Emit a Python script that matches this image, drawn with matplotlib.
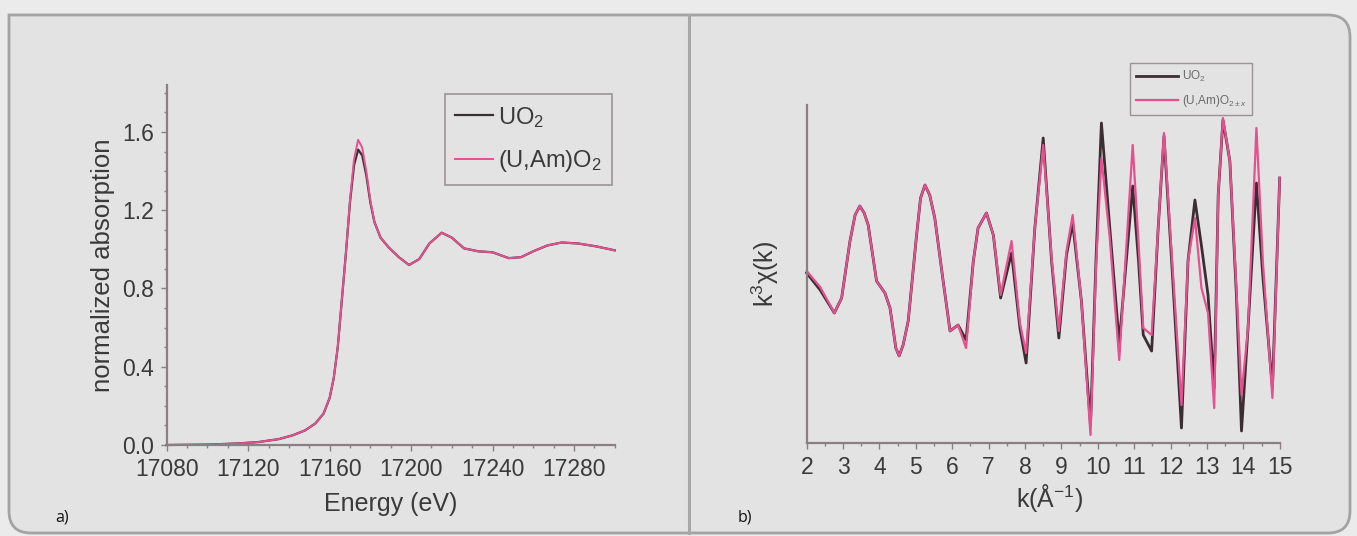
import matplotlib
matplotlib.use("Agg")
import matplotlib.pyplot as plt
from matplotlib.path import Path
from matplotlib.patches import PathPatch
from matplotlib.ticker import MultipleLocator, NullLocator

plt.rcParams['font.family'] = ['Liberation Sans', 'DejaVu Sans']
plt.rcParams['mathtext.fontset'] = 'custom'
plt.rcParams['mathtext.rm'] = 'Liberation Sans'
plt.rcParams['mathtext.it'] = 'Liberation Sans:italic'

# a) XANES, U L3 edge
energy = [17080, 17100, 17115, 17125, 17135, 17142, 17148, 17153, 17157, 17160,
          17162, 17164, 17166, 17168, 17170, 17172, 17174, 17176, 17178, 17180,
          17182, 17185, 17189, 17194, 17199, 17204, 17209, 17215, 17220, 17226,
          17233, 17240, 17248, 17254, 17260, 17267, 17274, 17282, 17291, 17300]
xanes_uo2 = [0.0, 0.002, 0.008, 0.015, 0.03, 0.05, 0.075, 0.11, 0.16, 0.24,
             0.34, 0.5, 0.74, 0.98, 1.24, 1.43, 1.51, 1.48, 1.38, 1.24,
             1.14, 1.06, 1.01, 0.96, 0.92, 0.95, 1.03, 1.085, 1.06, 1.005,
             0.99, 0.985, 0.955, 0.96, 0.99, 1.02, 1.035, 1.03, 1.015, 0.995]
xanes_uam = [0.0, 0.002, 0.008, 0.015, 0.03, 0.05, 0.075, 0.11, 0.16, 0.24,
             0.34, 0.5, 0.74, 0.98, 1.25, 1.46, 1.56, 1.52, 1.40, 1.25,
             1.14, 1.06, 1.01, 0.96, 0.92, 0.95, 1.03, 1.085, 1.06, 1.005,
             0.99, 0.985, 0.955, 0.96, 0.99, 1.02, 1.035, 1.03, 1.015, 0.995]

# b) EXAFS k^3 chi(k), arbitrary units
k = [2.00, 2.37, 2.76, 2.96, 3.19, 3.33, 3.46, 3.58, 3.69, 3.92,
     4.15, 4.29, 4.45, 4.54, 4.65, 4.79, 5.02, 5.13, 5.25, 5.38,
     5.52, 5.75, 5.94, 6.16, 6.38, 6.58, 6.71, 6.94, 7.13, 7.33,
     7.63, 7.86, 8.03, 8.27, 8.50, 8.73, 8.93, 9.14, 9.31, 9.55,
     9.80, 9.95, 10.10, 10.33, 10.59, 10.96, 11.12, 11.25, 11.48, 11.66,
     11.82, 12.03, 12.30, 12.48, 12.67, 12.85, 13.03, 13.20, 13.31, 13.44,
     13.63, 13.81, 13.95, 14.13, 14.36, 14.54, 14.80, 15.00]
chi_uo2 = [0.00, -0.17, -0.40, -0.25, 0.32, 0.58, 0.67, 0.60, 0.48, -0.08,
           -0.20, -0.35, -0.75, -0.83, -0.72, -0.48, 0.38, 0.75, 0.88, 0.78,
           0.55, -0.08, -0.58, -0.52, -0.67, 0.12, 0.45, 0.60, 0.38, -0.25,
           0.20, -0.55, -0.90, 0.45, 1.35, 0.12, -0.65, 0.18, 0.50, -0.28,
           -1.52, 0.12, 1.50, 0.45, -0.70, 0.87, 0.12, -0.62, -0.78, 0.45,
           1.37, 0.12, -1.55, 0.12, 0.73, 0.27, -0.22, -1.15, 0.78, 1.53,
           1.12, -0.22, -1.58, -0.55, 0.90, -0.05, -1.15, 0.95]
chi_uam = [0.02, -0.14, -0.40, -0.25, 0.32, 0.58, 0.67, 0.60, 0.48, -0.08,
           -0.20, -0.35, -0.75, -0.83, -0.72, -0.48, 0.38, 0.75, 0.88, 0.78,
           0.55, -0.08, -0.58, -0.52, -0.75, 0.12, 0.45, 0.60, 0.38, -0.22,
           0.32, -0.50, -0.80, 0.45, 1.28, 0.15, -0.58, 0.22, 0.58, -0.28,
           -1.62, 0.05, 1.15, 0.35, -0.87, 1.28, 0.30, -0.55, -0.62, 0.45,
           1.40, 0.20, -1.32, 0.12, 0.55, -0.15, -0.40, -1.35, 0.78, 1.55,
           1.12, -0.15, -1.22, -0.55, 1.45, 0.10, -1.25, 0.95]

c_uo2 = '#3a2e33'
c_uam = '#e5508f'
axis_c = '#8a7f85'
text_c = '#3a3a3a'

fig = plt.figure(figsize=(13.57, 5.36), dpi=100, facecolor='#ebebeb')

# background frame (pixel coordinates)
bg = fig.add_axes([0, 0, 1, 1], zorder=-5)
bg.set_xlim(0, 1357)
bg.set_ylim(536, 0)
bg.axis('off')
L, T, R, B, r = 9, 15, 1350, 533, 22
verts = [(L, T), (R - r, T), (R, T), (R, T + r), (R, B - r), (R, B), (R - r, B),
         (L + r, B), (L, B), (L, B - r), (L, T)]
codes = [Path.MOVETO, Path.LINETO, Path.CURVE3, Path.CURVE3, Path.LINETO,
         Path.CURVE3, Path.CURVE3, Path.LINETO, Path.CURVE3, Path.CURVE3, Path.CLOSEPOLY]
bg.add_patch(PathPatch(Path(verts, codes), facecolor='#e2e3e2', edgecolor='#a3a3a3', lw=2))
bg.plot([689, 689], [T, B], color='#a8a8a8', lw=2.2)
bg.text(62, 517, 'a)', fontsize=11.5, family=['Open Sans', 'DejaVu Sans'], ha='center', va='center', color='#111111')
bg.text(745, 517, 'b)', fontsize=11.5, family=['Open Sans', 'DejaVu Sans'], ha='center', va='center', color='#111111')


def style_axes(ax):
    ax.set_facecolor('none')
    for s in ['top', 'right']:
        ax.spines[s].set_visible(False)
    for s in ['left', 'bottom']:
        ax.spines[s].set_color(axis_c)
        ax.spines[s].set_linewidth(1.6)
    ax.tick_params(which='both', direction='out', color=axis_c, labelcolor=text_c,
                   labelsize=16.5, width=1.0)
    ax.tick_params(which='major', length=4, pad=5)
    ax.tick_params(which='minor', length=2.5)


# --- panel a ---
ax1 = fig.add_axes([166.7 / 1357, 91 / 536, 448 / 1357, 360 / 536])
style_axes(ax1)
ax1.plot(energy, xanes_uo2, color=c_uo2, lw=1.6, label='UO$_2$', clip_on=False)
ax1.plot(energy, xanes_uam, color=c_uam, lw=1.4, label='(U,Am)O$_2$', clip_on=False)
ax1.set_xlim(17080, 17300)
ax1.set_ylim(0, 1.84)
ax1.xaxis.set_major_locator(MultipleLocator(40))
ax1.xaxis.set_minor_locator(MultipleLocator(10))
ax1.yaxis.set_minor_locator(MultipleLocator(0.1))
ax1.set_yticks([0, 0.4, 0.8, 1.2, 1.6])
ax1.set_yticklabels(['0.0', '0.4', '0.8', '1.2', '1.6'])
ax1.set_xlabel('Energy (eV)', fontsize=18, color=text_c)
ax1.set_ylabel('normalized absorption', fontsize=18.5, color=text_c)
ax1.xaxis.set_label_coords(0.5, -0.13)
ax1.yaxis.set_label_coords(-0.115, 0.5)
leg1 = ax1.legend(loc='upper left', bbox_to_anchor=(278 / 448, 1 - 9 / 360),
                  fontsize=17, handlelength=1.6, handletextpad=0.2,
                  labelspacing=0.8, borderpad=0.45, borderaxespad=0.0,
                  fancybox=False, facecolor='none', edgecolor=axis_c)
leg1.get_frame().set_linewidth(1.2)
for t in leg1.get_texts():
    t.set_color(text_c)

# --- panel b ---
ax2 = fig.add_axes([806.7 / 1357, 93 / 536, 473 / 1357, 338 / 536])
style_axes(ax2)
ax2.plot(k, chi_uo2, color=c_uo2, lw=2.0, label='UO$_2$', clip_on=False)
ax2.plot(k, chi_uam, color=c_uam, lw=1.6, label='(U,Am)O$_{2\\pm x}$', clip_on=False)
ax2.set_xlim(2, 15)
ax2.set_ylim(-1.70, 1.68)
ax2.xaxis.set_major_locator(MultipleLocator(1))
ax2.xaxis.set_minor_locator(MultipleLocator(0.5))
ax2.yaxis.set_major_locator(NullLocator())
ax2.set_xlabel('k(Å$^{-1}$)', fontsize=18, color=text_c)
ax2.set_ylabel('k$^3$χ(k)', fontsize=18, color=text_c)
ax2.xaxis.set_label_coords(0.514, -0.115)
ax2.yaxis.set_label_coords(-0.055, 0.5)
leg2 = ax2.legend(loc='upper left', bbox_to_anchor=(323 / 473, 1 + 42 / 338),
                  fontsize=8.5, handlelength=3.6, handletextpad=0.3,
                  labelspacing=0.8, borderpad=0.5, borderaxespad=0.0,
                  fancybox=False, facecolor='none', edgecolor=axis_c)
leg2.get_frame().set_linewidth(1.0)
for t in leg2.get_texts():
    t.set_color('#6a6a6a')

fig.savefig('out.png', dpi=100, facecolor=fig.get_facecolor())
